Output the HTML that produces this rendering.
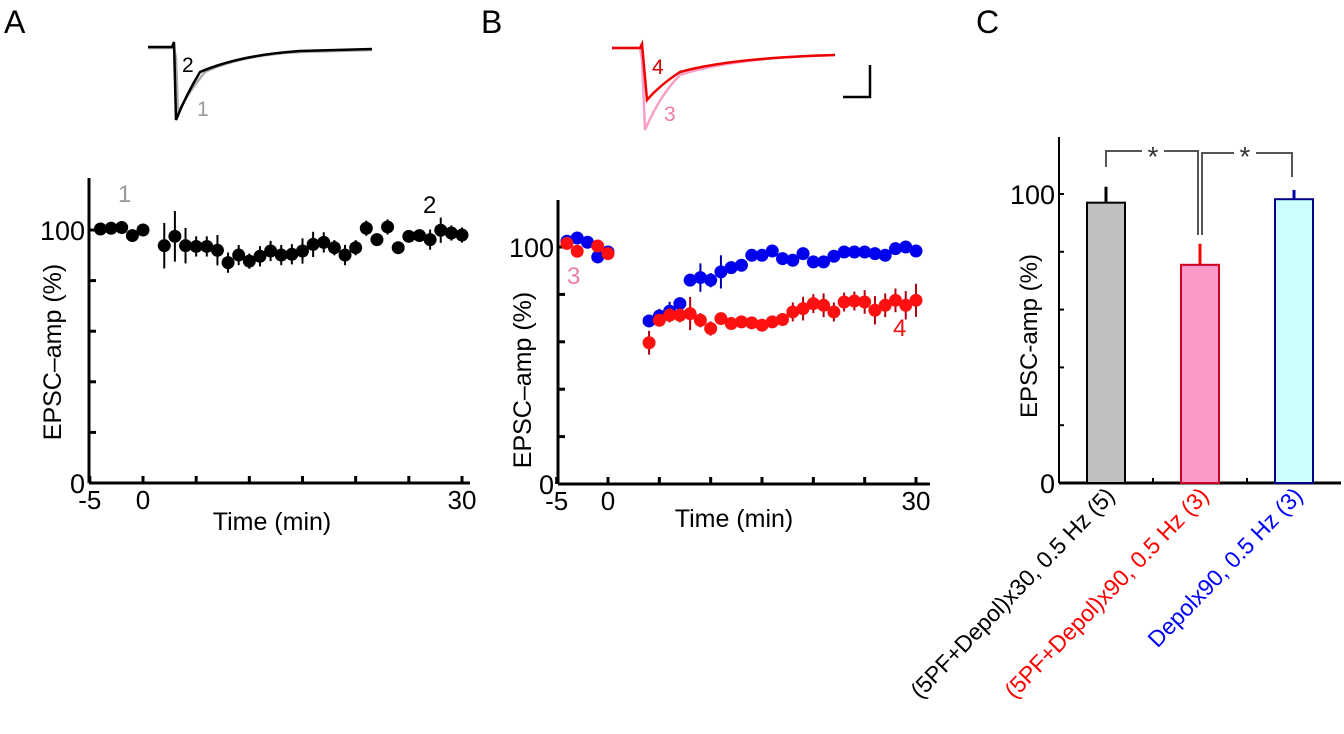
<!DOCTYPE html>
<html><head><meta charset="utf-8"><style>
body{margin:0;background:#fff;}
svg{display:block;font-family:"Liberation Sans","DejaVu Sans",sans-serif;}
</style></head><body>
<svg id="fig" width="1344" height="734" viewBox="0 0 1344 734">
<text x="4" y="33" font-size="32">A</text>
<text x="481" y="33" font-size="32">B</text>
<text x="976" y="33" font-size="32">C</text>
<g fill="none" stroke-width="2.5">
<path d="M148,48 L174,48 L176,58 L178,112 Q190,90 205,72 Q240,55 300,52 L372,50" stroke="#aaa"/>
<path d="M148,47 L172,47 L174,42 L176,120 Q186,95 200,72 Q240,55 300,51 L372,49" stroke="#000"/>
<text x="182" y="72" font-size="21" fill="#000" stroke="none">2</text>
<text x="197" y="116" font-size="21" fill="#999" stroke="none">1</text>
</g>
<g fill="none" stroke-width="2.5">
<path d="M612,48 L640,48 L642,60 L645,130 Q660,95 680,75 Q730,58 835,55" stroke="#f8a0c8"/>
<path d="M612,48 L640,48 L642,44 L647,100 Q660,85 680,72 Q730,58 835,55" stroke="#e00"/>
<text x="652" y="74" font-size="21" fill="#c00" stroke="none">4</text>
<text x="664" y="121" font-size="21" fill="#f07aa8" stroke="none">3</text>
<path d="M843,97 L870,97 L870,65" stroke="#000" stroke-width="2.5"/>
</g>
<g id="pa"></g><g id="pb"></g><g id="pc"></g>
</svg>
<script>
const NS="http://www.w3.org/2000/svg";
function el(p,t,a){const e=document.createElementNS(NS,t);for(const k in a)e.setAttribute(k,a[k]);p.appendChild(e);return e;}
// Panel A data
const aPreX=[-4,-3,-2,-1,0];
const aPreY=[100.4,100.7,101,97.8,100];
const aPreE=[1,1,1.5,1.5,1];
const aPostX=[2,3,4,5,6,7,8,9,10,11,12,13,14,15,16,17,18,19,20,21,22,23,24,25,26,27,28,29,30];
const aPostY=[93.8,97.5,93.8,93.5,93.5,92,87.1,90.1,87.7,89.6,91.7,90.1,90.4,91.7,94.3,95.1,93,90.1,93,100.7,96.2,101.2,93,97.5,97.8,96.2,99.9,98.8,98];
const aPostE=[9,10,7,4,4,6,4,4,3,4,4,4,4,5,5,4,3,4,3,3,2,3,2,2,2,4,5,3,3];
// Panel B data
const bBlueX=[-4,-3,-2,-1,0,4,5,6,7,8,9,10,11,12,13,14,15,16,17,18,19,20,21,22,23,24,25,26,27,28,29,30];
const bBlueY=[102.4,103.8,102,95.8,97.9,68.8,70.9,72.9,76.1,86,87.1,86,89.5,91.3,92.3,96.5,96.5,98.3,95.1,94.4,97.2,93.7,93.7,96.1,97.9,97.9,97.9,97.2,96.5,99.3,100,98.3];
const bBlueE=[1,1,1,1,1,2,3,4,2,1,6,3,7,2,1,2,2,1,1,1,1,1,1,1,1,1,1,1,1,1,1,1];
const bRedX=[-4,-3,-1,0,4,5,6,7,8,9,10,11,12,13,14,15,16,17,18,19,20,21,22,23,24,25,26,27,28,29,30];
const bRedY=[101.5,98.2,100.4,97.2,59.6,69.1,71.2,71.2,71.9,69.1,65.6,69.8,67.7,68.4,68,67,68.4,69.4,72.6,74,76.1,75.4,72.6,76.8,77.2,76.8,73.3,75.4,77.5,75.4,77.5];
const bRedE=[1,1,1,1,5,2,3,3,7,3,3,2,2,2,2,1,2,2,4,5,4,5,4,4,4,5,6,5,5,6,7];
// Panel C data
const cCats=["(5PF+Depol)x30, 0.5 Hz (5)","(5PF+Depol)x90, 0.5 Hz (3)","Depolx90, 0.5 Hz (3)"];
const cVals=[97,75.5,98.2];
const cErrs=[5.5,7.3,3.2];
const cFill=["#c0c0c0","#fb99c8","#ccffff"];
const cStroke=["#000","#d00020","#00008b"];
const cErrCol=["#000","#ff0000","#0000aa"];
const cTxtCol=["#000","#ff0000","#0000ff"];
const yTicks=[0,20,40,60,80,100,120];

function scatterAxes(g,x0,y0,x1,ytop,xFn,yFn,name){
  el(g,"line",{x1:x0,y1:y0,x2:x1,y2:y0,stroke:"#000","stroke-width":3,});
  el(g,"line",{x1:x0,y1:y0,x2:x0,y2:ytop,stroke:"#000","stroke-width":3,});
  for(let t=-5;t<=30;t+=5){el(g,"line",{x1:xFn(t),y1:y0,x2:xFn(t),y2:y0-7,stroke:"#000","stroke-width":3});}
  for(const v of yTicks.slice(0,6)){el(g,"line",{x1:x0,y1:yFn(v),x2:x0+7,y2:yFn(v),stroke:"#000","stroke-width":3});}
  [[-5,"-5"],[0,"0"],[30,"30"]].forEach(([t,s])=>{const e=el(g,"text",{x:xFn(t),y:y0+26,"font-size":26,"text-anchor":"middle"});e.textContent=s;});
  [[0,"0"],[100,"100"]].forEach(([v,s])=>{const e=el(g,"text",{x:x0-4,y:yFn(v)+10,"font-size":27,"text-anchor":"end"});e.textContent=s;});
}
function series(g,X,Y,E,xFn,yFn,col,ecol,name){
  X.forEach((x,i)=>{
    el(g,"line",{x1:xFn(x),x2:xFn(x),y1:yFn(Y[i]-E[i]),y2:yFn(Y[i]+E[i]),stroke:ecol,"stroke-width":2});
    const c=el(g,"circle",{cx:xFn(x),cy:yFn(Y[i]),r:6.5,fill:col});
    
    
  });
}
// Panel A
{const g=document.getElementById("pa");
 const xA=t=>143+(t)*(462-143)/30, yA=v=>483-v*(483-230)/100;
 scatterAxes(g,89,483,470,178,xA,yA,"panel-a");
 series(g,aPreX,aPreY,aPreE,xA,yA,"#000","#000","a-pre");
 series(g,aPostX,aPostY,aPostE,xA,yA,"#000","#000","a-post");
 let t=el(g,"text",{x:118,y:202,"font-size":24,fill:"#999"});t.textContent="1";
 t=el(g,"text",{x:423,y:213,"font-size":24,fill:"#000"});t.textContent="2";
 t=el(g,"text",{x:272,y:530,"font-size":25,"text-anchor":"middle"});t.textContent="Time (min)";
 t=el(g,"text",{x:0,y:0,"font-size":25,"text-anchor":"middle",transform:"translate(61,352) rotate(-90)"});t.textContent="EPSC\u2013amp (%)";
}
// Panel B
{const g=document.getElementById("pb");
 const xB=t=>608+t*(916-608)/30, yB=v=>484-v*(484-247)/100;
 scatterAxes(g,558,484,930,200,xB,yB,"panel-b");
 series(g,bBlueX,bBlueY,bBlueE,xB,yB,"#0000ee","#0000aa","b-blue");
 series(g,bRedX,bRedY,bRedE,xB,yB,"#ff1010","#b00010","b-red");
 let t=el(g,"text",{x:567,y:284,"font-size":24,fill:"#f07aa8"});t.textContent="3";
 t=el(g,"text",{x:893,y:336,"font-size":24,fill:"#ee1010"});t.textContent="4";
 t=el(g,"text",{x:734,y:527,"font-size":25,"text-anchor":"middle"});t.textContent="Time (min)";
 t=el(g,"text",{x:0,y:0,"font-size":25,"text-anchor":"middle",transform:"translate(531,380) rotate(-90)"});t.textContent="EPSC\u2013amp (%)";
}
// Panel C
{const g=document.getElementById("pc");
 const x0=1059,y0=483, yC=v=>y0-v*(y0-194)/100;
 const bw=38, centers=[1106,1200,1294];
 el(g,"line",{x1:x0,y1:y0,x2:1341,y2:y0,stroke:"#000","stroke-width":3,});
 el(g,"line",{x1:x0,y1:y0,x2:x0,y2:137,stroke:"#000","stroke-width":2,});
 for(const v of yTicks.slice(0,6)){el(g,"line",{x1:x0,y1:yC(v),x2:x0+5,y2:yC(v),stroke:"#000","stroke-width":2});}
 [1153,1247].forEach(x=>el(g,"line",{x1:x,x2:x,y1:y0,y2:y0-5,stroke:"#000","stroke-width":2}));
 [[0,"0"],[100,"100"]].forEach(([v,s])=>{const e=el(g,"text",{x:x0-4,y:yC(v)+10,"font-size":27,"text-anchor":"end"});e.textContent=s;});
 cVals.forEach((v,i)=>{
   const cx=centers[i];
   el(g,"line",{x1:cx,x2:cx,y1:yC(v),y2:yC(v+cErrs[i]),stroke:cErrCol[i],"stroke-width":3});
   const r=el(g,"rect",{x:cx-bw/2,y:yC(v),width:bw,height:y0-yC(v),fill:cFill[i],stroke:cStroke[i],"stroke-width":2});
   
   
   const t=el(g,"text",{x:0,y:0,"font-size":23,"text-anchor":"end",fill:cTxtCol[i],transform:`translate(${cx+10},${y0+14}) rotate(-46)`});
   t.textContent=cCats[i];
   
   
 });
 const br=el(g,"path",{d:"M1106,167 L1106,151 L1142,151 M1164,151 L1198,151 L1198,235 M1202,235 L1202,153 L1234,153 M1256,153 L1292,153 L1292,177",fill:"none",stroke:"#555","stroke-width":2});
 
 
 [1153,1245].forEach(x=>{const t=el(g,"text",{x:x,y:166,"font-size":28,"text-anchor":"middle",fill:"#333"});t.textContent="*";});
 const t=el(g,"text",{x:0,y:0,"font-size":24,"text-anchor":"middle",transform:"translate(1037,336) rotate(-90)"});t.textContent="EPSC-amp (%)";
}
</script>
</body></html>
